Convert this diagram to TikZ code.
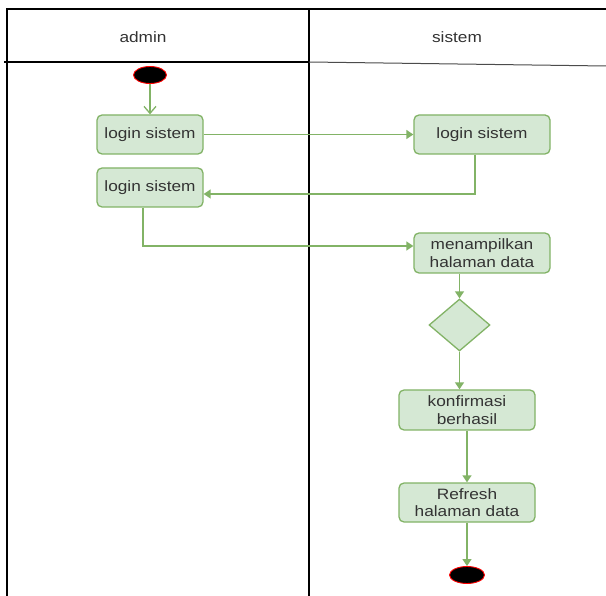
\documentclass[tikz,border=0pt]{standalone}
\usepackage{fontspec}
\setmainfont{Liberation Sans}[FakeStretch=1.15]
\usepackage{tikz}
\usetikzlibrary{arrows.meta,positioning,calc,shapes.geometric}
\usepackage{xcolor}
\definecolor{actfill}{HTML}{D5E8D4}
\definecolor{actline}{HTML}{82B366}
\definecolor{txt}{HTML}{333333}

\begin{document}
\begin{tikzpicture}[x=1pt,y=-1pt,
  act/.style={draw=actline,fill=actfill,line width=1.3pt,rounded corners=5pt,
    text=txt,align=center,inner sep=0pt,font=\fontsize{15}{17.5}\selectfont},
  dot/.style={ellipse,draw=red,fill=black,line width=0.9pt,inner sep=0pt},
  flow/.style={actline,line width=1.4pt,-{Triangle[length=7pt,width=9pt]}},
  lane/.style={black,line width=1.2pt}]
  \useasboundingbox (0,0) rectangle (606,596);
  \fill[white] (0,0) rectangle (606,596);
  % swimlanes
  \draw[lane] (7,596) -- (7,9) -- (606,9);
  \draw[lane] (309,9) -- (309,596);
  \draw[lane] (4,62) -- (309,62);
  \draw[black!70,line width=1pt] (309,62) -- (606,66);
  \node[font=\fontsize{15}{16}\selectfont,text=txt] (hadmin) at (143,37) {admin};
  \node[font=\fontsize{15}{16}\selectfont,text=txt] (hsistem) at (457,37) {sistem};
  % nodes
  \node[dot,minimum width=33pt,minimum height=17pt] (start) at (150,75) {};
  \node[act,minimum width=106pt,minimum height=39pt] (login1) at (150,134.5) {login sistem};
  \node[act,minimum width=136pt,minimum height=39pt] (login2) at (482,134.5) {login sistem};
  \node[act,minimum width=106pt,minimum height=39pt] (login3) at (150,187.5) {login sistem};
  \node[act,minimum width=136pt,minimum height=40pt] (tampil) at (482,253) {menampilkan\\halaman data};
  \node[diamond,draw=actline,fill=actfill,line width=1.3pt,minimum width=61pt,
    minimum height=52pt,inner sep=0pt] (cek) at (459.5,325) {};
  \node[act,minimum width=136pt,minimum height=40pt] (konfirm) at (467,410) {konfirmasi\\berhasil};
  \node[act,minimum width=136pt,minimum height=39pt] (refresh) at (467,502.5) {Refresh\\halaman data};
  \node[dot,minimum width=35pt,minimum height=17pt] (stop) at (467,575) {};
  % edges
  \draw[actline,line width=1.3pt,-{Straight Barb[length=7pt,width=12pt]}] (start) -- (login1);
  \draw[flow] (login1) -- (login2);
  \draw[flow] ($(login2.south)+(-7,0)$) |- ($(login3.east)+(0,6.5)$);
  \draw[flow] ($(login3.south)+(-7,0)$) |- ($(tampil.west)+(0,-7)$);
  \draw[flow] (tampil.south -| cek.north) -- (cek.north);
  \draw[flow] (cek.south) -- (cek.south |- konfirm.north);
  \draw[flow] (konfirm) -- (refresh);
  \draw[flow] (refresh) -- (stop);
\end{tikzpicture}
\end{document}
